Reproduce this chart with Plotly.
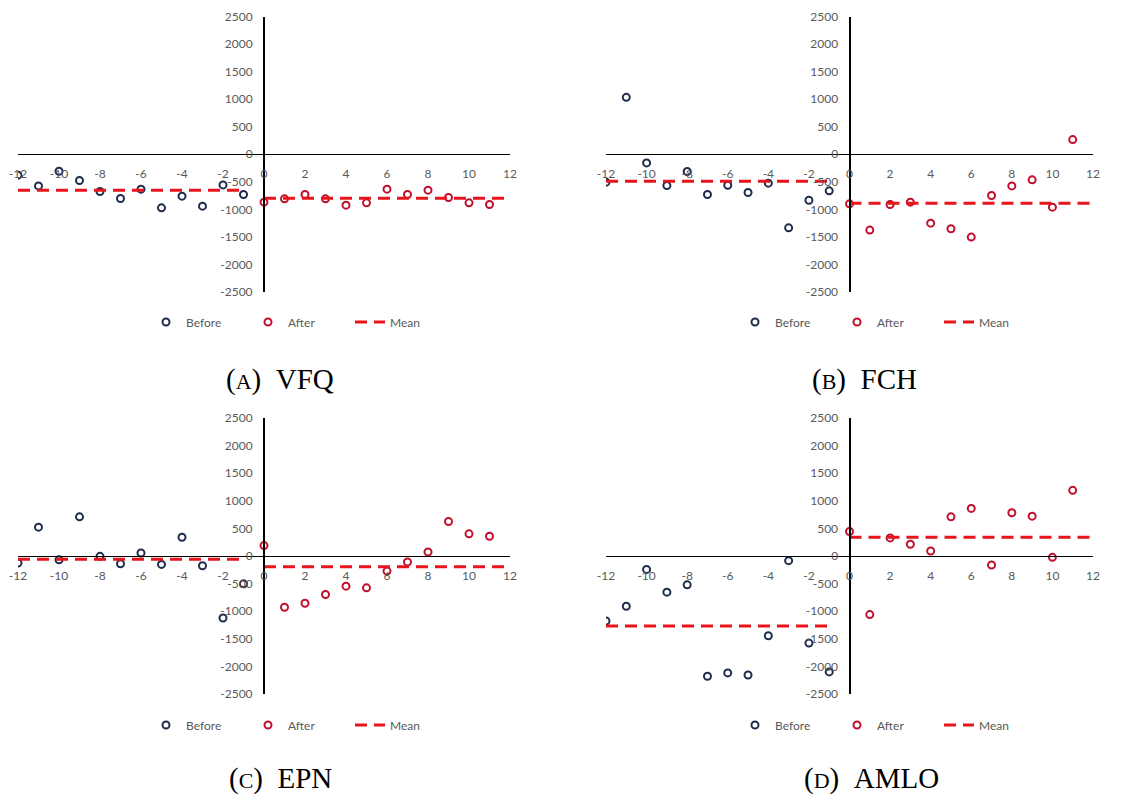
import plotly.graph_objects as go

W, H = 1146, 798

x_before = [-12, -11, -10, -9, -8, -7, -6, -5, -4, -3, -2, -1]
x_after = [0, 1, 2, 3, 4, 5, 6, 7, 8, 9, 10, 11]
mean_before_span = [-12, -1]
mean_after_span = [0, 12]

vfq_before = [-380, -574, -308, -477, -676, -803, -634, -972, -761, -942, -556, -731]
vfq_after = [-870, -809, -731, -809, -924, -882, -634, -731, -652, -785, -882, -912]
vfq_mean = [-652, -800]

fch_before = [-507, 1033, -157, -568, -314, -731, -562, -695, -525, -1335, -834, -664]
fch_after = [-900, -1377, -912, -870, -1250, -1353, -1504, -749, -574, -465, -960, 266]
fch_mean = [-488, -888]

epn_before = [-127, 522, -67, 710, -6, -140, 55, -152, 340, -176, -1123, -504]
epn_after = [188, -929, -856, -698, -546, -577, -273, -109, 73, 625, 401, 358]
epn_mean = [-60, -195]

amlo_before = [-1177, -910, -243, -655, -522, -2179, -2118, -2155, -1444, -85, -1578, -2100]
amlo_after = [443, -1062, 328, 212, 91, 710, 862, -164, 783, 722, -24, 1190]
amlo_mean = [-1266, 340]

panel_labels = ["A", "B", "C", "D"]
panel_names = ["VFQ", "FCH", "EPN", "AMLO"]
x_ticks = [-12, -10, -8, -6, -4, -2, 0, 2, 4, 6, 8, 10, 12]
y_ticks = [-2500, -2000, -1500, -1000, -500, 0, 500, 1000, 1500, 2000, 2500]
x_ticktext = [str(v) for v in x_ticks]
y_ticktext = [str(v) for v in y_ticks]

panels = [
    (vfq_before, vfq_after, vfq_mean),
    (fch_before, fch_after, fch_mean),
    (epn_before, epn_after, epn_mean),
    (amlo_before, amlo_after, amlo_mean),
]

# pixel layout of each panel: (left, right, top, bottom)
boxes = [(18, 510, 16.5, 292), (606, 1093, 16.5, 292),
         (18, 510, 418, 694), (606, 1093, 418, 694)]
legend_pos = [(146, 322), (735, 322), (146, 725), (735, 725)]
caption_pos = [(280, 379), (864, 379), (280, 778), (871, 778)]

C_BEFORE = "#1F2D4D"
C_AFTER = "#C0102E"
C_MEAN = "#E8141B"
TICK_FONT = dict(family="Lato, Open Sans, sans-serif", size=12, color="#595959")

fig = go.Figure()
layout = {}
for i, (bef, aft, mn) in enumerate(panels):
    n = "" if i == 0 else str(i + 1)
    leg = "legend" if i == 0 else f"legend{i + 1}"
    fig.add_trace(go.Scatter(
        x=x_before, y=bef, mode="markers", name="Before",
        marker=dict(symbol="circle-open", size=7, color=C_BEFORE, line=dict(width=2, color=C_BEFORE)),
        xaxis="x" + n, yaxis="y" + n, legend=leg))
    fig.add_trace(go.Scatter(
        x=x_after, y=aft, mode="markers", name="After",
        marker=dict(symbol="circle-open", size=7, color=C_AFTER, line=dict(width=2, color=C_AFTER)),
        xaxis="x" + n, yaxis="y" + n, legend=leg))
    fig.add_trace(go.Scatter(
        x=mean_before_span + [None] + mean_after_span,
        y=[mn[0], mn[0], None, mn[1], mn[1]],
        mode="lines", name="Mean",
        line=dict(color=C_MEAN, width=3, dash="12px,7px"),
        xaxis="x" + n, yaxis="y" + n, legend=leg))

    l, r, t, b = boxes[i]
    xd = [l / W, r / W]
    yd = [1 - b / H, 1 - t / H]
    layout["xaxis" + n] = dict(
        domain=xd, range=[-12, 12], tickvals=x_ticks, ticktext=x_ticktext,
        showgrid=False, zeroline=False,
        showline=True, linecolor="black", linewidth=1.3, anchor="free",
        position=(yd[0] + yd[1]) / 2, tickfont=TICK_FONT, ticks="", ticklabelstandoff=8,
        fixedrange=True, automargin=False)
    layout["yaxis" + n] = dict(
        domain=yd, range=[-2500, 2500], tickvals=y_ticks, ticktext=y_ticktext,
        showgrid=False, zeroline=False,
        showline=True, linecolor="black", linewidth=2, anchor="free",
        position=(xd[0] + xd[1]) / 2, tickfont=TICK_FONT, ticks="", ticklabelstandoff=8,
        fixedrange=True, automargin=False)
    lx, ly = legend_pos[i]
    layout[leg] = dict(
        orientation="h", x=lx / W, y=1 - ly / H, xanchor="left", yanchor="middle",
        font=dict(family="Lato, Open Sans, sans-serif", size=12, color="#595959"),
        entrywidth=57, entrywidthmode="pixels", bgcolor="rgba(0,0,0,0)", traceorder="normal")

annotations = []
for i in range(4):
    cx, cy = caption_pos[i]
    annotations.append(dict(
        x=cx / W, y=1 - cy / H, xref="paper", yref="paper", showarrow=False,
        xanchor="center", yanchor="middle",
        text=f"(<span style='font-size:22px'>{panel_labels[i]}</span>)\u00a0\u00a0{panel_names[i]}",
        font=dict(family="Liberation Serif, DejaVu Serif, serif", size=29, color="black")))

fig.update_layout(
    width=W, height=H, margin=dict(l=0, r=0, t=0, b=0, autoexpand=False),
    plot_bgcolor="white", paper_bgcolor="white", showlegend=True,
    annotations=annotations, **layout)

fig.write_html("out.html", config={"displayModeBar": False})
